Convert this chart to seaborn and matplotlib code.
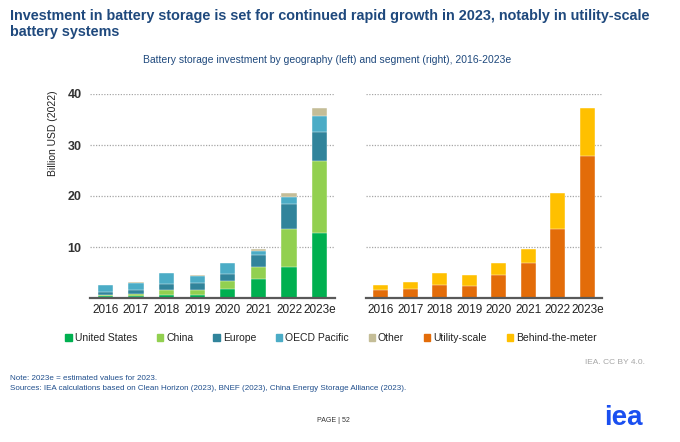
import numpy as np
import pandas as pd
import seaborn as sns
import matplotlib.pyplot as plt
from matplotlib.patches import Patch

years = ["2016", "2017", "2018", "2019", "2020", "2021", "2022", "2023e"]
us = [0.3, 0.45, 0.6, 0.65, 1.75, 3.8, 6.0, 12.8]
china = [0.2, 0.35, 0.95, 0.9, 1.65, 2.3, 7.6, 14.0]
europe = [0.7, 0.8, 1.25, 1.3, 1.3, 2.3, 4.9, 5.75]
oecd_pacific = [1.4, 1.4, 2.1, 1.4, 2.15, 0.8, 1.3, 3.15]
other = [0.0, 0.2, 0.05, 0.35, 0.1, 0.4, 0.7, 1.6]
utility = [1.5, 1.75, 2.5, 2.35, 4.6, 6.85, 13.6, 27.85]
btm = [1.1, 1.45, 2.4, 2.25, 2.25, 2.75, 6.9, 9.45]

geo_names = ["United States", "China", "Europe", "OECD Pacific", "Other"]
geo_vals = [us, china, europe, oecd_pacific, other]
geo_cols = ["#00b050", "#92d050", "#31849b", "#4bacc6", "#c4bd97"]
seg_names = ["Utility-scale", "Behind-the-meter"]
seg_vals = [utility, btm]
seg_cols = ["#e36c09", "#ffc000"]

sns.set_theme(style="white")
plt.rcParams["font.family"] = ["Liberation Sans", "DejaVu Sans"]

fig = plt.figure(figsize=(6.8, 4.42), dpi=100)
axL = fig.add_axes([90 / 680, 1 - 298 / 442, 245 / 680, 204 / 442])
axR = fig.add_axes([366 / 680, 1 - 298 / 442, 236 / 680, 204 / 442])


def stacked(ax, names, vals, cols):
    df = pd.DataFrame({"year": years})
    cum = np.zeros(len(years))
    cums = []
    for v in vals:
        cum = cum + np.array(v)
        cums.append(cum.copy())
    for name, c, col in reversed(list(zip(names, cums, cols))):
        df[name] = c
        sns.barplot(data=df, x="year", y=name, color=col, width=0.5,
                    ax=ax, saturation=1, edgecolor="white", linewidth=0.3)
    ax.set_ylim(0, 40)
    ax.set_xlim(-0.5, 7.5)
    ax.set_yticks([10, 20, 30, 40])
    for yv in [10, 20, 30, 40]:
        ax.axhline(yv, color="#a6a6a6", linestyle=(0, (1, 1.2)), linewidth=0.9, zorder=0)
    for s in ["top", "right", "left"]:
        ax.spines[s].set_visible(False)
    ax.spines["bottom"].set_color("#595959")
    ax.spines["bottom"].set_linewidth(1.6)
    ax.set_xlabel("")
    ax.set_ylabel("")
    ax.tick_params(axis="x", labelsize=8.5, colors="#222222", length=0, pad=4)
    ax.tick_params(axis="y", labelsize=9, length=0, pad=6)
    for t in ax.get_yticklabels():
        t.set_fontweight("bold")
        t.set_color("#333333")


stacked(axL, geo_names, geo_vals, geo_cols)
stacked(axR, seg_names, seg_vals, seg_cols)
axR.set_yticklabels([])
axL.set_ylabel("Billion USD (2022)", fontsize=7.5, color="#222222")
axL.yaxis.set_label_coords((58 - 90) / 245, 0.81)

title_col = "#1f497d"
fig.text(10 / 680, 1 - 16 / 442, "Investment in battery storage is set for continued rapid growth in 2023, notably in utility-scale",
         fontsize=10.4, fontweight="bold", color=title_col, va="center", ha="left")
fig.text(10 / 680, 1 - 32 / 442, "battery systems",
         fontsize=10.4, fontweight="bold", color=title_col, va="center", ha="left")
fig.text(327 / 680, 1 - 60 / 442,
         "Battery storage investment by geography (left) and segment (right), 2016-2023e",
         fontsize=7.5, color=title_col, va="center", ha="center")

handles = [Patch(color=c) for c in geo_cols + seg_cols]
labels = geo_names + seg_names
fig.legend(handles, labels, loc="center", bbox_to_anchor=(331 / 680, 1 - 338 / 442),
           ncol=7, frameon=False, fontsize=7.5, handlelength=0.6, handleheight=0.6,
           handletextpad=0.3, columnspacing=1.9, labelcolor="#222222")

fig.text(645 / 680, 1 - 363 / 442, "IEA. CC BY 4.0.", fontsize=6, color="#a6a6a6",
         ha="right", va="center")
fig.text(10 / 680, 1 - 378 / 442, "Note: 2023e = estimated values for 2023.", fontsize=5.8,
         color="#1f4e8c", ha="left", va="center")
fig.text(10 / 680, 1 - 389 / 442,
         "Sources: IEA calculations based on Clean Horizon (2023), BNEF (2023), China Energy Storage Alliance (2023).",
         fontsize=5.8, color="#1f4e8c", ha="left", va="center")
fig.text(333 / 680, 1 - 421 / 442, "PAGE | 52", fontsize=5, color="#333333",
         ha="center", va="center")
fig.text(623 / 680, 1 - 418 / 442, "iea", fontsize=20, fontweight="bold",
         color="#1a4ff0", ha="center", va="center")

fig.savefig("out.png", dpi=100)
